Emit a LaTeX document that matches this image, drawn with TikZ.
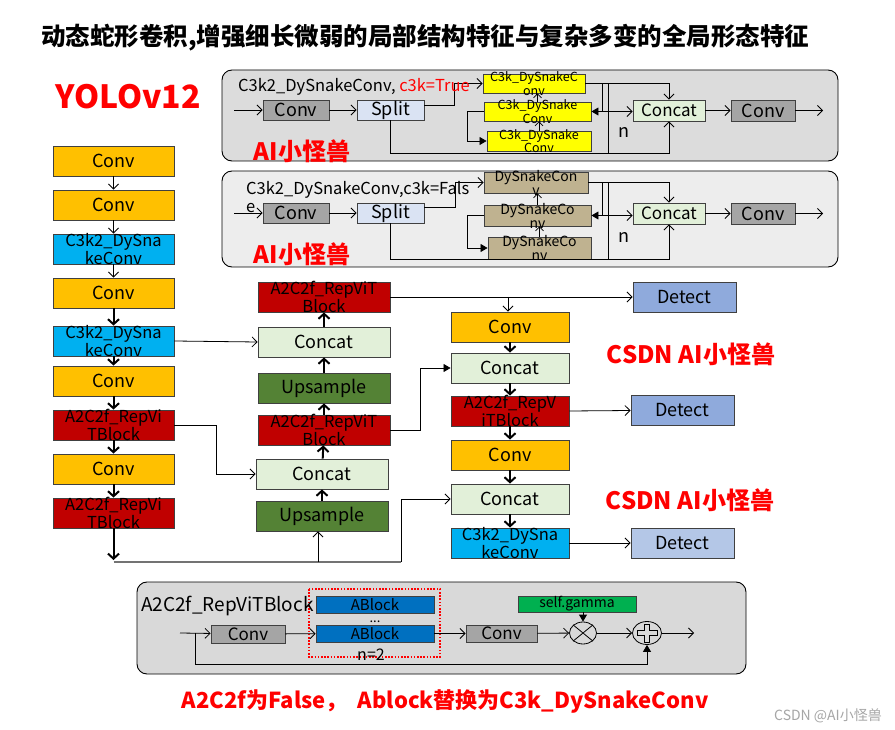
\documentclass[tikz,border=0pt]{standalone}
\usepackage{fontspec}
\setmainfont{Noto Sans CJK SC}
\usetikzlibrary{arrows.meta,calc,shapes.geometric}
\definecolor{cOr}{HTML}{FFC000}
\definecolor{cCy}{HTML}{00B0F0}
\definecolor{cRd}{HTML}{C00000}
\definecolor{cLg}{HTML}{E2F0D9}
\definecolor{cDg}{HTML}{548235}
\definecolor{cDt}{HTML}{8FAADC}
\definecolor{cDtb}{HTML}{B4C7E7}
\definecolor{cGy}{HTML}{A5A5A5}
\definecolor{cSp}{HTML}{DAE3F3}
\definecolor{cYe}{HTML}{FFFF00}
\definecolor{cTan}{HTML}{BFB290}
\definecolor{cAb}{HTML}{0070C0}
\definecolor{cGa}{HTML}{00B050}
\definecolor{cPa}{HTML}{DCDCDC}
\definecolor{cPb}{HTML}{EDEDED}
\definecolor{cPc}{HTML}{D9D9D9}
\definecolor{cRed}{HTML}{FF0000}
\begin{document}
\begin{tikzpicture}[x=1pt,y=-1pt,
  bx/.style={draw=black!75, line width=0.9pt, inner sep=0pt, font=\fontsize{18}{18}\selectfont},
  lc/.style={bx, minimum width=121, minimum height=30},
  mc/.style={bx, minimum width=132, minimum height=30},
  rc/.style={bx, minimum width=118, minimum height=30},
  dt/.style={bx, minimum width=103, minimum height=30},
  two/.style={label={[align=center, inner sep=0pt, font=\fontsize{16.5}{16.5}\selectfont]center:#1}},
  twos/.style={label={[align=center, inner sep=0pt, font=\fontsize{12.5}{13.5}\selectfont]center:#1}},
  twom/.style={label={[align=center, inner sep=0pt, font=\fontsize{14}{14}\selectfont]center:#1}},
  ar/.style={-{Straight Barb[length=5pt,width=10pt]}, line width=0.8pt},
  arS/.style={-{Straight Barb[length=4pt,width=8pt]}, line width=0.7pt},
  tk/.style={-{Straight Barb[length=5pt,width=11pt,line width=2pt]}, line width=2pt},
  fa/.style={-{Triangle[length=7pt,width=8pt]}, line width=0.8pt},
  red/.style={text=cRed, font=\bfseries\fontsize{24}{24}\selectfont},
  pl/.style={font=\fontsize{16.5}{16.5}\selectfont, inner sep=0pt}
]
\useasboundingbox[fill=white] (0,0) rectangle (895,730);

% titles
\node[font=\bfseries\fontsize{24.5}{24.5}\selectfont, anchor=west, inner sep=0pt] (title) at (41,38) {动态蛇形卷积,增强细长微弱的局部结构特征与复杂多变的全局形态特征};
\node[text=cRed, font=\bfseries\fontsize{32}{32}\selectfont] (yolo) at (128,97) {YOLOv12};

% ---------- panel 1 ----------
\draw[fill=cPa, rounded corners=10, line width=0.9pt] (222,70) rectangle (838,161);
\node[bx, fill=cGy, minimum width=66, minimum height=20] (T1conv) at (296,110) {Conv};
\node[bx, fill=cSp, minimum width=67, minimum height=20] (T1split) at (390.5,110) {Split};
\node[bx, fill=cYe, minimum width=102, minimum height=19, twos={C3k\_DySnakeC\\onv}] (T1a) at (534,83.5) {};
\node[bx, fill=cYe, minimum width=107, minimum height=19, twos={C3k\_DySnake\\Conv}] (T1b) at (537.5,111.5) {};
\node[bx, fill=cYe, minimum width=104, minimum height=20, twos={C3k\_DySnake\\Conv}] (T1c) at (539,141) {};
\node[bx, fill=cLg, minimum width=72, minimum height=21, font=\fontsize{17}{17}\selectfont] (T1cat) at (669,110.5) {Concat};
\node[bx, fill=cGy, minimum width=64, minimum height=21] (T1conv2) at (763,110.5) {Conv};
\node[pl, font=\fontsize{18}{18}\selectfont] (T1n) at (624,132) {n};
\node[red] (T1ai) at (302,151) {AI小怪兽};
\coordinate (T1i) at (234,110);
\coordinate (T1o) at (823,110.5);
\coordinate (T1j1) at (602,83.5);
\coordinate (T1j2) at (602,111.5);
\coordinate (T1j3) at (608,83.5);
\coordinate (T1j4) at (608,153);
\draw[ar] (T1i) -- (T1conv);
\draw[ar] (T1conv) -- (T1split);
\draw[ar] ($(T1split.east)+(0,-5)$) -- ++(30,0) |- (T1a.west);
\draw[ar] (T1a.east) -| (T1cat.north);
\draw (T1j1) -- (T1j2);
\draw[fa] (T1j2) -- (T1j2 -| T1b.east);
\draw[ar] (T1j2) -- (T1j2 -| T1cat.west);
\draw (T1j3) -- (T1j4);
\draw[ar] (T1split.south) |- (T1cat.south |- T1j4) -- (T1cat.south);
\draw[fa] (T1b.west) -- ++(-16,0) |- (T1c.west);
\draw[arS] (T1b.north) -- (T1b.north |- T1a.south);
\draw[arS] (T1c.north) -- (T1c.north |- T1b.south);
\draw[ar] (T1cat) -- (T1conv2);
\draw[ar] (T1conv2) -- (T1o);
\node[pl, anchor=west] (T1t) at (238,87) {C3k2\_DySnakeConv, \textcolor{cRed}{c3k=True}};

% ---------- panel 2 ----------
\draw[fill=cPb, rounded corners=10, line width=0.9pt] (222,171) rectangle (838,267);
\node[bx, fill=cGy, minimum width=66, minimum height=20] (T2conv) at (296,213) {Conv};
\node[bx, fill=cSp, minimum width=67, minimum height=20] (T2split) at (390.5,213) {Split};
\node[bx, fill=cTan, minimum width=104, minimum height=21, twom={DySnakeCon\\v}] (T2a) at (536,182.5) {};
\node[bx, fill=cTan, minimum width=107, minimum height=21, twom={DySnakeCo\\nv}] (T2b) at (537.5,215.5) {};
\node[bx, fill=cTan, minimum width=103, minimum height=22, twom={DySnakeCo\\nv}] (T2c) at (539.5,248) {};
\node[bx, fill=cLg, minimum width=72, minimum height=21, font=\fontsize{17}{17}\selectfont] (T2cat) at (669,213.5) {Concat};
\node[bx, fill=cGy, minimum width=64, minimum height=21] (T2conv2) at (763,213.5) {Conv};
\node[pl, font=\fontsize{18}{18}\selectfont] (T2n) at (624,237) {n};
\node[red] (T2ai) at (302,254) {AI小怪兽};
\coordinate (T2i) at (234,213);
\coordinate (T2o) at (823,213.5);
\coordinate (T2j1) at (602,182.5);
\coordinate (T2j2) at (602,215.5);
\coordinate (T2j3) at (608,182.5);
\coordinate (T2j4) at (608,259);
\draw[ar] (T2i) -- (T2conv);
\draw[ar] (T2conv) -- (T2split);
\draw[ar] ($(T2split.east)+(0,-6)$) -- ++(31,0) |- (T2a.west);
\draw[ar] (T2a.east) -| (T2cat.north);
\draw (T2j1) -- (T2j2);
\draw[fa] (T2j2) -- (T2j2 -| T2b.east);
\draw[ar] (T2j2) -- (T2j2 -| T2cat.west);
\draw (T2j3) -- (T2j4);
\draw[ar] (T2split.south) |- (T2cat.south |- T2j4) -- (T2cat.south);
\draw[fa] (T2b.west) -- ++(-16,0) |- (T2c.west);
\draw[arS] (T2b.north) -- (T2b.north |- T2a.south);
\draw[arS] (T2c.north) -- (T2c.north |- T2b.south);
\draw[ar] (T2cat) -- (T2conv2);
\draw[ar] (T2conv2) -- (T2o);
\node[pl, anchor=west] (T2t) at (246,190) {C3k2\_DySnakeConv,c3k=Fals};
\node[pl, anchor=west] (T2te) at (246,208) {e};

% ---------- left column ----------
\node[lc, fill=cOr] (L1) at (113.5,161) {Conv};
\node[lc, fill=cOr] (L2) at (113.5,205) {Conv};
\node[lc, fill=cCy, two={C3k2\_DySna\\keConv}] (L3) at (113.5,249) {};
\node[lc, fill=cOr] (L4) at (113.5,293) {Conv};
\node[lc, fill=cCy, two={C3k2\_DySna\\keConv}] (L5) at (113.5,341) {};
\node[lc, fill=cOr] (L6) at (113.5,381) {Conv};
\node[lc, fill=cRd, two={A2C2f\_RepVi\\TBlock}] (L7) at (113.5,425) {};
\node[lc, fill=cOr] (L8) at (113.5,469) {Conv};
\node[lc, fill=cRd, two={A2C2f\_RepVi\\TBlock}] (L9) at (113.5,513) {};
\draw[ar] (L1) -- (L2);
\draw[ar] (L2) -- (L3);
\draw[ar] (L3) -- (L4);
\draw[tk] (L4) -- (L5);
\draw[tk] (L5) -- (L6);
\draw[tk] (L6) -- (L7);
\draw[tk] (L7) -- (L8);
\draw[tk] (L8) -- (L9);
\coordinate (Lend) at (113.5,560);
\draw[tk] (L9) -- (Lend);

% ---------- middle column ----------
\node[mc, fill=cRd, two={A2C2f\_RepViT\\Block}] (M1) at (324,297) {};
\node[mc, fill=cLg] (M2) at (324,342) {Concat};
\node[mc, fill=cDg] (M3) at (324,388) {Upsample};
\node[mc, fill=cRd, two={A2C2f\_RepViT\\Block}] (M4) at (324,430) {};
\node[mc, fill=cLg] (M5) at (322,474) {Concat};
\node[mc, fill=cDg] (M6) at (322,516) {Upsample};
\draw[tk] (M6) -- (M5);
\draw[tk] (M5) -- (M4);
\draw[tk] (M4) -- (M3);
\draw[tk] (M3) -- (M2);
\draw[tk] (M2) -- (M1);

% ---------- right column ----------
\node[rc, fill=cOr] (R1) at (510,327) {Conv};
\node[rc, fill=cLg] (R2) at (510,368) {Concat};
\node[rc, fill=cRd, two={A2C2f\_RepV\\iTBlock}] (R3) at (510,411) {};
\node[rc, fill=cOr] (R4) at (510,455) {Conv};
\node[rc, fill=cLg] (R5) at (510,499) {Concat};
\node[rc, fill=cCy, two={C3k2\_DySna\\keConv}] (R6) at (510,543) {};
\draw[tk] (R1) -- (R2);
\draw[tk] (R2) -- (R3);
\draw[tk] (R3) -- (R4);
\draw[tk] (R4) -- (R5);
\draw[tk] (R5) -- (R6);

\node[dt, fill=cDt] (D1) at (684.5,297) {Detect};
\node[dt, fill=cDt] (D2) at (682.5,410.5) {Detect};
\node[dt, fill=cDtb] (D3) at (682.5,543) {Detect};
\node[red] (cs1) at (691,354) {CSDN AI小怪兽};
\node[red] (cs2) at (690,500) {CSDN AI小怪兽};

% ---------- connections ----------
\draw[ar] (L5.east) -- (M2.west);
\draw[ar] (L7.east) -- ++(42,0) |- (M5.west);
\draw[ar] (M1.east) -- (D1.west);
\coordinate (J1) at (508,297);
\draw[ar] (J1) -- (J1 |- R1.north);
\draw[fa] (M4.east) -- ++(30,0) |- (R2.west);
\draw[ar] (R3.east) -- (D2.west);
\draw[ar] (R6.east) -- (D3.west);
\coordinate (G1) at (113.5,562);
\coordinate (G2) at (401,562);
\coordinate (G3) at (318,562);
\draw[black!55, line width=1.8pt] (G1) -- (G2);
\draw[ar] (G2) |- (R5.west);
\draw[ar] (G3) -- (G3 |- M6.south);

% ---------- bottom panel ----------
\draw[fill=cPc, rounded corners=10, line width=0.9pt] (137,582) rectangle (746,674);
\draw[cRed, line width=1.3pt, dash pattern=on 1.6pt off 1.6pt] (309,589) rectangle (440,657);
\node[bx, fill=cGy, minimum width=74, minimum height=18, font=\fontsize{17}{17}\selectfont] (Bc1) at (248,634) {Conv};
\node[bx, fill=cAb, minimum width=118, minimum height=17, font=\fontsize{15}{15}\selectfont] (AB1) at (375,604.5) {ABlock};
\node[bx, fill=cAb, minimum width=118, minimum height=17, font=\fontsize{15}{15}\selectfont] (AB2) at (375,633.5) {ABlock};
\node[inner sep=0pt, anchor=base, font=\fontsize{13}{13}\selectfont] (dots) at (375,622) {...};
\node[font=\fontsize{16}{16}\selectfont, inner sep=0pt] (n2) at (371,655) {n=2};
\node[bx, fill=cGy, minimum width=71, minimum height=17, font=\fontsize{17}{17}\selectfont] (Bc2) at (501.5,633.5) {Conv};
\node[bx, fill=cGa, minimum width=118, minimum height=16, font=\fontsize{14}{14}\selectfont] (gam) at (577,604) {self.gamma};
\node[draw, ellipse, line width=0.8pt, minimum width=27, minimum height=22, inner sep=0pt] (mul) at (583,633) {};
\draw[line width=0.8pt] (mul.north west) -- (mul.south east) (mul.north east) -- (mul.south west);
\node[draw, ellipse, line width=0.8pt, minimum width=29, minimum height=23, inner sep=0pt] (pls) at (647,633) {};
\draw[line width=0.8pt] ($(pls)+(-10,-2.5)$) -- ++(7.5,0) -- ++(0,-6.5) -- ++(5,0) -- ++(0,6.5) -- ++(7.5,0) -- ++(0,5) -- ++(-7.5,0) -- ++(0,6.5) -- ++(-5,0) -- ++(0,-6.5) -- ++(-7.5,0) -- cycle;
\node[anchor=west, font=\fontsize{19}{19}\selectfont, inner sep=0pt] (Bt) at (141,606) {A2C2f\_RepViTBlock};
\coordinate (Bi) at (180,633);
\coordinate (Br) at (195,633);
\coordinate (Bo) at (694,633);
\draw[ar] (Bi) -- (Bc1);
\draw[ar] (Bc1) -- (AB2);
\draw[ar] (AB2) -- (Bc2);
\draw[ar] (Bc2) -- (mul);
\draw[fa] (gam.south -| mul.north) -- (mul.north);
\draw[ar] (mul) -- (pls);
\draw[ar] (pls) -- (Bo);
\draw[fa] (Br) -- ++(0,31) -| (pls.south);

% ---------- bottom texts ----------
\node[text=cRed, font=\bfseries\fontsize{22}{22}\selectfont] (btxt) at (445,701) {A2C2f为False，\ \ Ablock替换为C3k\_DySnakeConv};
\node[text=black!35, font=\fontsize{14}{14}\selectfont] (wm) at (828,716) {CSDN @AI小怪兽};
\end{tikzpicture}
\end{document}
